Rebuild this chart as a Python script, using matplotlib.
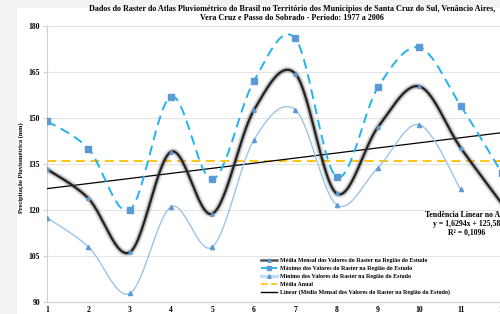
import numpy as np
import matplotlib
matplotlib.use("Agg")
import matplotlib.pyplot as plt
from matplotlib.lines import Line2D

months = list(range(1, 13))
media = [133.3, 123.8, 106.2, 139.0, 118.8, 152.5, 164.5, 125.4, 147.0, 160.3, 140.3, 122.0]
maximo = [149.0, 140.0, 120.0, 157.0, 130.0, 162.0, 176.0, 130.8, 160.0, 173.0, 154.0, 132.0]
minimo = [117.5, 108.0, 92.8, 121.0, 108.0, 142.8, 152.7, 121.7, 133.8, 147.8, 126.7, np.nan]
yticks = [90, 105, 120, 135, 150, 165, 180]

title = ("Dados do Raster do Atlas Pluviométrico do Brasil no Território dos Municípios de Santa Cruz do Sul, Venâncio Aires,\n"
         "Vera Cruz e Passo do Sobrado - Período: 1977 a 2006")
labels = ["Média Mensal dos Valores do Raster na Região do Estudo",
          "Máximo dos Valores do Raster na Região do Estudo",
          "Mínimo dos Valores do Raster na Região do Estudo",
          "Média Anual",
          "Linear (Média Mensal dos Valores do Raster na Região do Estudo)"]
trend_text = "Tendência Linear no Ano\ny = 1,6294x + 125,58\nR² = 0,1096"

SERIF = ["Liberation Serif", "DejaVu Serif"]


def smooth(xs, ys, n=30):
    xs = np.asarray(xs, float)
    ys = np.asarray(ys, float)
    ok = ~np.isnan(ys)
    xs, ys = xs[ok], ys[ok]
    P = np.column_stack([xs, ys])
    out = []
    for i in range(len(P) - 1):
        p0 = P[i - 1] if i > 0 else P[i]
        p1 = P[i]
        p2 = P[i + 1]
        p3 = P[i + 2] if i + 2 < len(P) else P[i + 1]
        c1 = p1 + (p2 - p0) / 6.0
        c2 = p2 - (p3 - p1) / 6.0
        t = np.linspace(0, 1, n)[:, None]
        seg = ((1 - t) ** 3) * p1 + 3 * ((1 - t) ** 2) * t * c1 + 3 * (1 - t) * t ** 2 * c2 + t ** 3 * p2
        out.append(seg if i == 0 else seg[1:])
    s = np.vstack(out)
    return s[:, 0], s[:, 1]


fig = plt.figure(figsize=(5.0, 3.14), dpi=100, facecolor="#f2f2f2")
bg = fig.add_axes([17 / 500, 0, 1 - 17 / 500, 1 - 8 / 314])
bg.set_facecolor("white")
bg.set_xticks([]); bg.set_yticks([])
for s in bg.spines.values():
    s.set_visible(False)
bg.set_zorder(-5)

ax = fig.add_axes([47 / 500, 12 / 314, 455 / 500, 276 / 314])
ax.set_facecolor("none")
ax.set_xlim(1, 12)
ax.set_ylim(90, 180)
ax.set_yticks(yticks)
ax.set_xticks(months)
ax.grid(axis="y", color="#e4e4e4", lw=0.8)
ax.set_axisbelow(True)
for s in ["top", "right"]:
    ax.spines[s].set_visible(False)
ax.spines["left"].set_color("#d0d0d0")
ax.spines["bottom"].set_color("#d0d0d0")
ax.tick_params(axis="y", length=3, color="#d0d0d0", pad=2, labelsize=5.5)
ax.tick_params(axis="x", length=0, pad=3, labelsize=5.5)
for lab in ax.get_xticklabels() + ax.get_yticklabels():
    lab.set_fontfamily(SERIF)
    lab.set_fontweight("bold")

x = np.array(months, float)

mean_val = np.nanmean(media)
ax.axhline(mean_val, color="#ffc000", lw=1.3, dashes=(5, 3), zorder=2)

coef = np.polyfit(x, media, 1)
xt = np.array([1, 12])
ax.plot(xt, np.polyval(coef, xt), color="black", lw=0.9, zorder=3)

sx, sy = smooth(x, minimo)
ax.plot(sx, sy, color="#9dc3e6", lw=1.0, zorder=4)
ax.plot(x, minimo, ls="none", marker="^", ms=3, color="#5b9bd5", zorder=5)

sx, sy = smooth(x, maximo)
ax.plot(sx, sy, color="#1fb4f0", lw=1.4, dashes=(5, 3), zorder=4)
ax.plot(x, maximo, ls="none", marker="s", ms=4, color="#5b9bd5", zorder=5)

sx, sy = smooth(x, media)
for lw, a in [(5.5, 0.08), (4.2, 0.14), (3.0, 0.25)]:
    ax.plot(sx, sy, color="#555555", lw=lw, alpha=a, zorder=6, solid_capstyle="round")
ax.plot(sx, sy, color="#222222", lw=1.6, zorder=7)
ax.plot(x, media, ls="none", marker="^", ms=2.5, color="#5b9bd5", zorder=8)

hm = Line2D([], [], color="#555555", lw=1.8, marker="^", ms=2.5, mfc="#5b9bd5", mec="#5b9bd5")
hx = Line2D([], [], color="#1fb4f0", lw=1.3, dashes=(4, 2), marker="s", ms=3, mfc="#5b9bd5", mec="#5b9bd5")
hn = Line2D([], [], color="#c5dcf0", lw=2.5, marker="^", ms=2.5, mfc="#5b9bd5", mec="#5b9bd5")
ha = Line2D([], [], color="#ffc000", lw=1.2, dashes=(4, 2))
hl = Line2D([], [], color="black", lw=1.0)
fig.legend([hm, hx, hn, ha, hl], labels, loc="upper left",
           bbox_to_anchor=(261 / 500, 1 - 258 / 314), frameon=False,
           prop={"family": SERIF, "weight": "bold", "size": 4.3},
           handlelength=2.6, handletextpad=0.5, labelspacing=0.45,
           borderpad=0, borderaxespad=0)

fig.text(292 / 500, 1 - 5 / 314, title, ha="center", va="top", fontsize=5.85,
         fontfamily=SERIF, fontweight="bold", linespacing=1.1)
fig.text(21 / 500, 1 - 168 / 314, "Precipitação Pluviométrica (mm)", rotation=90,
         ha="center", va="center", fontsize=4.6, fontfamily=SERIF, fontweight="bold")
fig.text(467 / 500, 1 - 211 / 314, trend_text, ha="center", va="top", fontsize=5.6,
         fontfamily=SERIF, fontweight="bold", linespacing=1.15)

fig.savefig("out.png", dpi=100, facecolor=fig.get_facecolor())
